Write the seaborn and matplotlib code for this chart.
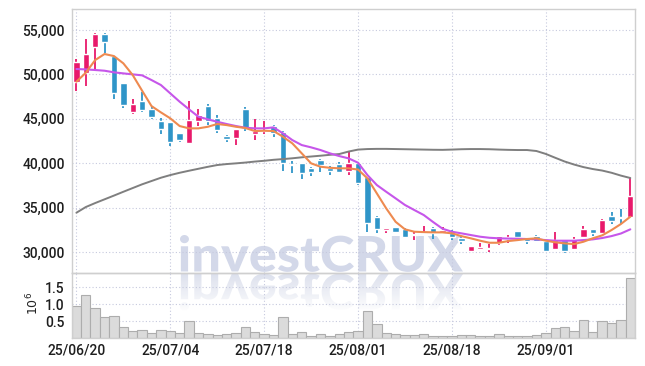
import numpy as np
import matplotlib
matplotlib.use("Agg")
import matplotlib.pyplot as plt
import seaborn as sns
from matplotlib.textpath import TextPath
from matplotlib.font_manager import FontProperties
from matplotlib.patches import PathPatch
from matplotlib.transforms import Affine2D
from matplotlib.ticker import FuncFormatter, FixedLocator

# trading days shown on the chart
dates = (["25/06/20", "25/06/23", "25/06/24", "25/06/25", "25/06/26", "25/06/27",
          "25/06/30", "25/07/01", "25/07/02", "25/07/03", "25/07/04",
          "25/07/07", "25/07/08", "25/07/09", "25/07/10", "25/07/11",
          "25/07/14", "25/07/15", "25/07/16", "25/07/17", "25/07/18",
          "25/07/21", "25/07/22", "25/07/23", "25/07/24", "25/07/25",
          "25/07/28", "25/07/29", "25/07/30", "25/07/31", "25/08/01",
          "25/08/04", "25/08/05", "25/08/06", "25/08/07", "25/08/08",
          "25/08/11", "25/08/12", "25/08/13", "25/08/14", "25/08/18",
          "25/08/19", "25/08/20", "25/08/21", "25/08/22",
          "25/08/25", "25/08/26", "25/08/27", "25/08/28", "25/08/29",
          "25/09/01", "25/09/02", "25/09/03", "25/09/04", "25/09/05",
          "25/09/08", "25/09/09", "25/09/10", "25/09/11", "25/09/12"])
tick_dates = ["25/06/20", "25/07/04", "25/07/18", "25/08/01", "25/08/18", "25/09/01"]

opens = [49100, 50200, 53100, 54600, 52050, 49000, 45800, 47000, 46100, 44750,
         44650, 43400, 42300, 44800, 46450, 45150, 43100, 42800, 46100, 43250,
         43600, 44250, 43550, 39900, 40000, 39500, 40350, 39500, 39900, 39150,
         40000, 38450, 33950, 32450, 32800, 32650, 31900, 32000, 32700, 32300,
         32100, 31550, 30150, 30400, 30300, 31000, 31450, 32350, 31650, 31800,
         31200, 30300, 31350, 30300, 31650, 32550, 32200, 34050, 33950, 34000]
highs = [51700, 53950, 54650, 54650, 52100, 49050, 47250, 48050, 46500, 45050,
         44700, 43450, 47000, 46100, 46650, 45450, 43150, 43900, 46300, 44950,
         44800, 44300, 43600, 40200, 40050, 39600, 40450, 39700, 40100, 41400,
         40050, 38500, 34050, 32750, 32850, 32700, 32350, 32950, 32800, 32800,
         32450, 31800, 30700, 31050, 30900, 31850, 31950, 32350, 31700, 31900,
         31350, 32250, 31400, 31650, 32950, 32600, 33700, 34500, 34900, 38300]
lows = [48100, 48700, 50400, 52400, 47200, 46200, 45500, 45800, 44950, 43350,
        41950, 42350, 42150, 44200, 44300, 43450, 42450, 42050, 43650, 42600,
        43350, 43000, 39150, 38950, 38200, 38550, 39050, 38700, 38900, 38650,
        37600, 32300, 32200, 32150, 32250, 31700, 31350, 31900, 31450, 32100,
        31350, 30900, 30050, 30300, 30000, 30850, 31000, 31350, 30950, 31150,
        30100, 30250, 29850, 30250, 31550, 31800, 32100, 33150, 33150, 33800]
closes = [51400, 52300, 54600, 53650, 47950, 46600, 46650, 46000, 45250, 43850,
          42450, 42600, 44850, 45450, 44800, 43800, 42700, 43850, 43950, 43650,
          43700, 43450, 40050, 39750, 38950, 39050, 39850, 39150, 39000, 40000,
          37800, 33250, 32650, 32700, 32250, 31750, 32050, 32200, 32100, 32450,
          31750, 31300, 30700, 30550, 30450, 31800, 31650, 31650, 31200, 31250,
          30150, 31350, 30150, 31450, 32550, 32200, 33600, 33550, 33800, 36300]

ma5 = [49180, 50190, 51620, 52300, 52070, 51250, 49930, 48170, 46440, 45730,
       45060, 44190, 43930, 43930, 44110, 44420, 44300, 44110, 43970, 43630,
       43660, 43630, 42990, 42240, 41120, 39990, 39610, 39490, 39430, 39430,
       39290, 38300, 36610, 34920, 33410, 32560, 32290, 32250, 32220, 32220,
       32110, 31800, 31550, 31280, 31050, 31050, 31240, 31350, 31470, 31550,
       31280, 31100, 30980, 30900, 31160, 31550, 31880, 32480, 33160, 33980]
ma20 = [50610, 50570, 50500, 50420, 50240, 50120, 50010, 49900, 49370, 48810,
        47870, 46930, 46070, 45240, 44950, 44670, 44420, 44190, 44000, 43930,
        43930, 44040, 43370, 42610, 42050, 41790, 41490, 41120, 40810, 40550,
        40060, 38670, 37550, 36790, 36050, 35300, 34730, 34170, 33380, 32630,
        32290, 32110, 31920, 31730, 31610, 31550, 31520, 31500, 31470, 31430,
        31350, 31280, 31280, 31280, 31350, 31430, 31580, 31800, 32090, 32560]
ma60 = [34430, 35070, 35520, 35940, 36360, 36790, 37210, 37630, 38000, 38370,
        38670, 38930, 39160, 39380, 39600, 39800, 39910, 39990, 40080, 40190,
        40280, 40390, 40470, 40560, 40670, 40760, 40850, 40950, 41040, 41320,
        41540, 41600, 41620, 41620, 41600, 41580, 41560, 41540, 41520, 41510,
        41540, 41580, 41600, 41600, 41580, 41540, 41510, 41490, 41490, 41380,
        41050, 40620, 40200, 39860, 39570, 39350, 39180, 38930, 38610, 38340]

volume = [930000, 1260000, 890000, 630000, 660000, 310000, 220000, 230000, 160000, 240000,
          220000, 160000, 510000, 160000, 120000, 90000, 120000, 160000, 310000, 190000,
          130000, 100000, 630000, 120000, 180000, 70000, 110000, 60000, 120000, 190000,
          220000, 810000, 420000, 150000, 120000, 90000, 90000, 120000, 70000, 70000,
          70000, 80000, 100000, 50000, 70000, 120000, 70000, 70000, 70000, 100000,
          150000, 290000, 320000, 210000, 540000, 190000, 490000, 430000, 540000, 1770000]

UP = "#e8196b"
DOWN = "#2f95c8"
GRID = "#c6c9de"
SPINE = "#cfcfcf"

sns.set_style("white")
plt.rcParams["font.family"] = ["Roboto", "DejaVu Sans"]
plt.rcParams["font.weight"] = "medium"

W, H = 645, 366
fig = plt.figure(figsize=(W / 100, H / 100), dpi=100)
fig.patch.set_facecolor("white")

# background layer in pixel coordinates for the watermark and its reflection
bg = fig.add_axes([0, 0, 1, 1], zorder=-1)
bg.axis("off")

left, right = 71.7, 635
ax = fig.add_axes([left / W, 1 - 272.5 / H, (right - left) / W, (272.5 - 9) / H])
axv = fig.add_axes([left / W, 1 - 338 / H, (right - left) / W, (338 - 272.5) / H], sharex=ax)
for a in (ax, axv):
    a.set_facecolor("none")

idx = np.arange(len(dates))
o = np.array(opens)
c = np.array(closes)
colors = [UP if cc >= oo else DOWN for oo, cc in zip(o, c)]

# candles
ax.vlines(idx, lows, highs, colors=colors, lw=1.3, zorder=2)
body_lo = np.minimum(o, c)
body_h = np.maximum(np.abs(c - o), 150)
ax.bar(idx, body_h, bottom=body_lo, width=0.68, color=colors, zorder=3)

# moving averages
sns.lineplot(x=idx, y=ma60, ax=ax, color="#7f7f7f", lw=1.4, zorder=4)
sns.lineplot(x=idx, y=ma20, ax=ax, color="#c656ea", lw=1.5, zorder=4)
sns.lineplot(x=idx, y=ma5, ax=ax, color="#ee8a50", lw=1.5, zorder=5)

# volume
sns.barplot(x=idx, y=volume, ax=axv, native_scale=True, width=1.0,
            color="#dbdbdb", edgecolor="#adadad", linewidth=0.8, saturation=1, zorder=2)

ax.set_xlim(-0.5, 59.5)
ax.set_ylim(27700, 57370)
axv.set_ylim(0, 1.93e6)

tick_pos = [dates.index(d) for d in tick_dates]
for a in (ax, axv):
    a.xaxis.set_major_locator(FixedLocator(tick_pos))
    a.set_axisbelow(True)
    a.grid(True, color=GRID, ls=(0, (1, 2)), lw=0.8)
    a.tick_params(length=0, labelsize=10, labelcolor="#1e1e1e")
    for s in a.spines.values():
        s.set_visible(True)
        s.set_color(SPINE)
        s.set_linewidth(1.0)
    a.set_xlabel("")
    a.set_ylabel("")

ax.set_yticks([30000, 35000, 40000, 45000, 50000, 55000])
ax.yaxis.set_major_formatter(FuncFormatter(lambda v, p: f"{v:,.0f}"))
ax.tick_params(axis="x", labelbottom=False)
ax.tick_params(axis="y", pad=5)

axv.set_yticks([0.5e6, 1.0e6, 1.5e6])
axv.yaxis.set_major_formatter(FuncFormatter(lambda v, p: f"{v / 1e6:.1f}"))
axv.set_xticklabels(tick_dates)
axv.tick_params(axis="y", pad=5)
axv.tick_params(axis="x", pad=4)
fig.text(33 / W, 1 - 303 / H, r"$10^6$", rotation=90, ha="center", va="center",
         fontsize=9, color="#222222")

# watermark
tp = TextPath((0, 0), "investCRUX", size=100,
              prop=FontProperties(family=["Lato", "DejaVu Sans"], weight="black"))
bb = tp.get_extents()
x0, x1, top, base = 180, 463, 235, 271.5
sx = (x1 - x0) / bb.width
sy = (base - top) / bb.y1
main_path = Affine2D().translate(-bb.x0, 0).scale(sx, -sy).translate(x0, base).transform_path(tp)
refl_path = Affine2D().translate(-bb.x0, 0).scale(sx, sy).translate(x0, base + 2.5).transform_path(tp)
bg.add_patch(PathPatch(main_path, fc="#d3d8e9", ec="none", transform=bg.transData))
refl_patch = PathPatch(refl_path, fc="none", ec="none", transform=bg.transData)
grad = np.zeros((50, 2, 4))
grad[..., :3] = np.array([0.83, 0.85, 0.91])
grad[..., 3] = np.linspace(0.8, 0.0, 50)[:, None]
im = bg.imshow(grad, extent=[x0 - 5, x1 + 5, base + 42, base + 2], aspect="auto",
               interpolation="bilinear")
im.set_clip_path(refl_patch)
bg.set_xlim(0, W)
bg.set_ylim(H, 0)

fig.savefig("out.png", dpi=100)
